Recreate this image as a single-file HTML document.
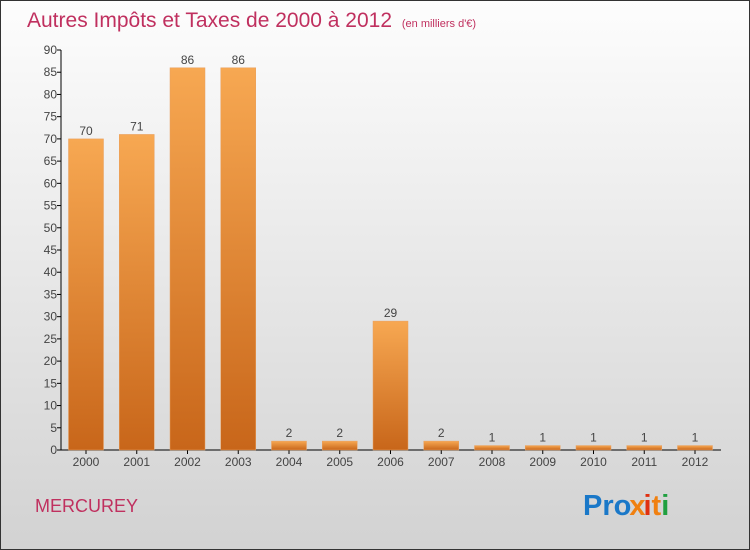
<!DOCTYPE html>
<html><head><meta charset="utf-8"><style>
html,body{margin:0;padding:0}
body{width:750px;height:550px;overflow:hidden;font-family:"Liberation Sans",sans-serif}
#frame{position:absolute;left:0;top:0;width:748px;height:548px;border:1px solid #333;background:linear-gradient(#fdfdfd,#d2d2d2)}
</style></head><body>
<div id="frame"></div>
<svg id="chart" width="750" height="550" style="position:absolute;left:0;top:0">
<defs>
<linearGradient id="bg" x1="0" y1="0" x2="0" y2="1"><stop offset="0" stop-color="#f7a852"/><stop offset="1" stop-color="#c8661a"/></linearGradient>
</defs>
<text x="27" y="27" font-size="21" fill="#c0305f">Autres Impôts et Taxes de 2000 à 2012 <tspan font-size="11" dx="4">(en milliers d'€)</tspan></text>
<text x="35" y="512" font-size="18" fill="#c0305f">MERCUREY</text>
<text x="583" y="515" font-size="29" font-weight="bold"><tspan fill="#1a78c8">Pro</tspan><tspan fill="#f08010" dx="-2">x</tspan><tspan fill="#1a78c8" dx="-2" font-size="0">.</tspan><tspan fill="#e03010">i</tspan><tspan fill="#f08010">t</tspan><tspan fill="#20a040">i</tspan></text>
<g id="axes"></g><g id="bars"></g>
</svg>
<script>
const categories=["2000","2001","2002","2003","2004","2005","2006","2007","2008","2009","2010","2011","2012"];
const values=[70,71,86,86,2,2,29,2,1,1,1,1,1];
const yTicks=[0,5,10,15,20,25,30,35,40,45,50,55,60,65,70,75,80,85,90];
const NS="http://www.w3.org/2000/svg";
const y0=450,yTop=50,yMax=90,x0=61,step=50.75,firstC=86,bw=35;
const y=v=>y0-(v/yMax)*(y0-yTop);
const x=i=>firstC+i*step;
function mk(t,a,p){const e=document.createElementNS(NS,t);for(const k in a)e.setAttribute(k,a[k]);p.appendChild(e);return e;}
const ax=document.getElementById('axes'),bars=document.getElementById('bars');
const yl=mk('line',{x1:x0,y1:yTop,x2:x0,y2:y0,stroke:'#000'},ax);


const xl=mk('line',{x1:x0,y1:y0,x2:721,y2:y0,stroke:'#000'},ax);


yTicks.forEach(t=>{
 mk('line',{x1:x0-4,y1:y(t),x2:x0,y2:y(t),stroke:'#000'},ax);
 const tx=mk('text',{x:x0-4,y:y(t)+4,'font-size':12,fill:'#444','text-anchor':'end'},ax);
 tx.textContent=t;
 
 
});
categories.forEach((c,i)=>{
 const cx=x(i);
 mk('line',{x1:cx,y1:y0,x2:cx,y2:y0+4,stroke:'#000'},ax);
 const tl=mk('text',{x:cx,y:y0+16,'font-size':12,fill:'#444','text-anchor':'middle'},ax);
 tl.textContent=c;
 
 
 const b=mk('rect',{x:cx-bw/2,y:y(values[i]),width:bw,height:y0-y(values[i]),fill:'url(#bg)',stroke:'#e8a060','stroke-width':0.5},bars);
 
 
 const vl=mk('text',{x:cx,y:y(values[i])-4,'font-size':12,fill:'#444','text-anchor':'middle'},bars);
 vl.textContent=values[i];
 
 
});
</script>
</body></html>
